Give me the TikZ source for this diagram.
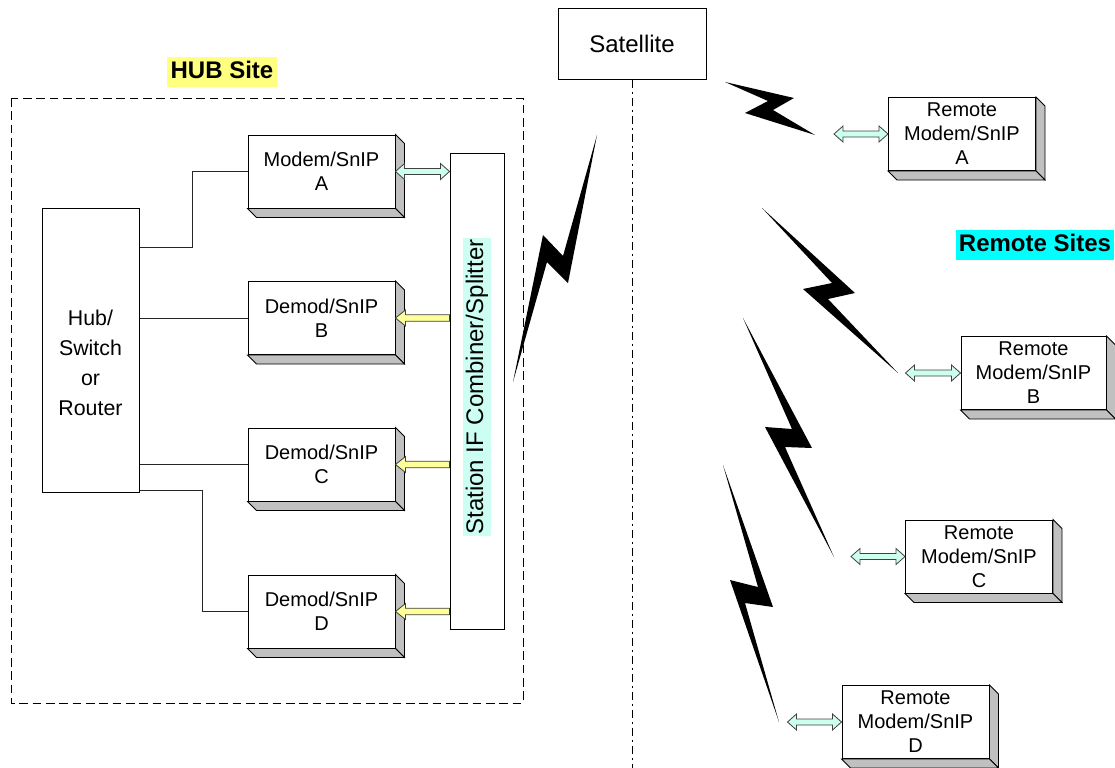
\documentclass[tikz,border=0pt]{standalone}
\usepackage{fontspec}
\setmainfont{Liberation Sans}
\usetikzlibrary{calc}
\definecolor{aqua}{HTML}{CCFFEE}
\definecolor{lyel}{HTML}{FFFF99}
\definecolor{hubyel}{HTML}{FFFF80}
\definecolor{sidegray}{HTML}{C0C0C0}
\definecolor{stbg}{HTML}{CCFFF2}
\definecolor{remcyan}{HTML}{00FFFF}
\tikzset{
 box/.style={draw=black, fill=white, line width=0.75pt, inner sep=0pt, align=center,
   font=\fontsize{15}{18}\selectfont, minimum width=110.25pt, minimum height=54.75pt},
 side/.style={draw=black, fill=sidegray, line width=0.6pt},
 wire/.style={draw=black!85, line width=0.75pt},
 arr/.style={draw=black!75, line width=0.6pt},
 bolt/.style={fill=black},
 title/.style={font=\fontsize{18}{21}\selectfont\bfseries, inner xsep=2.5pt, inner ysep=3pt,
   text height=13pt, text depth=3.5pt},
 hubdash/.style={draw=black, line width=0.75pt, dash pattern=on 6.5pt off 3.5pt},
 satline/.style={draw=black, line width=0.75pt, dash pattern=on 6pt off 3pt on 1.5pt off 3pt},
}
\newcommand\bevdepth[1]{%
 \filldraw[side] (#1.north east) -- ++(9,9) -- ($(#1.south east)+(9,9)$) -- (#1.south east) -- cycle;
 \filldraw[side] (#1.south west) -- ++(9,9) -- ($(#1.south east)+(9,9)$) -- (#1.south east) -- cycle;}
\newcommand\dblarr[3]{%
 \filldraw[arr, fill=#3] let \p1=#1, \p2=#2 in
 (\x1,\y1) -- (\x1+6.75pt,\y1+6pt) -- (\x1+6.75pt,\y1+2.25pt) -- (\x2-6.75pt,\y2+2.25pt)
 -- (\x2-6.75pt,\y2+6pt) -- (\x2,\y2) -- (\x2-6.75pt,\y2-6pt) -- (\x2-6.75pt,\y2-2.25pt)
 -- (\x1+6.75pt,\y1-2.25pt) -- (\x1+6.75pt,\y1-6pt) -- cycle;}
\newcommand\sglarr[3]{%
 \filldraw[arr, fill=#3] let \p1=#1, \p2=#2 in
 (\x2,\y2) -- (\x2+7.5pt,\y2+6pt) -- (\x2+7.5pt,\y2+2.5pt) -- (\x1,\y1+2.5pt)
 -- (\x1,\y1-2.5pt) -- (\x2+7.5pt,\y2-2.5pt) -- (\x2+7.5pt,\y2-6pt) -- cycle;}
\begin{document}
\begin{tikzpicture}[x=0.75pt,y=-0.75pt]
\useasboundingbox (0,0) rectangle (1115,768);

% HUB site frame and title
\draw[hubdash] (11,98) rectangle (523,703);
\node[title, fill=hubyel] (hubtitle) at (222,72) {HUB Site};
\node[title, fill=remcyan] (remtitle) at (1035,245) {Remote Sites};

% Satellite
\node[draw, line width=0.75pt, fill=white, minimum width=111pt, minimum height=53.25pt,
  font=\fontsize{18}{21}\selectfont] (sat) at (632,43.5) {Satellite};
\coordinate (satend) at (632,768);
\draw[satline] (sat.south) -- (satend);

% Hub / switch
\node[draw, line width=0.75pt, fill=white, minimum width=72.75pt, minimum height=213pt] (hub) at (90.5,350) {};
\node[font=\fontsize{16}{22.5}\selectfont, align=center] (hubtext) at ($(hub.center)+(0,13)$) {Hub/\\Switch\\or\\Router};

% Combiner
\node[draw, line width=0.75pt, fill=white, minimum width=40.5pt, minimum height=357pt] (comb) at (477,391) {};
\node[rotate=90, fill=stbg, inner xsep=1pt, inner ysep=2pt, font=\fontsize{18}{21}\selectfont] (combtext) at ($(comb.center)+(0,-4)$) {Station IF Combiner/Splitter};

% Hub modems
\node[box] (ma) at (321.5,171.5) {Modem/SnIP\\A};
\node[box] (db) at (321.5,318) {Demod/SnIP\\B};
\node[box] (dc) at (321.5,464.5) {Demod/SnIP\\C};
\node[box] (dd) at (321.5,611.5) {Demod/SnIP\\D};
\bevdepth{ma}\bevdepth{db}\bevdepth{dc}\bevdepth{dd}

% Remote modems
\node[box] (ra) at (962,134) {Remote\\Modem/SnIP\\A};
\node[box, minimum width=108.75pt] (rb) at (1033.5,373) {Remote\\Modem/SnIP\\B};
\node[box] (rc) at (979,556.5) {Remote\\Modem/SnIP\\C};
\node[box] (rd) at (915.5,722) {Remote\\Modem/SnIP\\D};
\bevdepth{ra}\bevdepth{rb}\bevdepth{rc}\bevdepth{rd}

% Wires hub -> modems
\draw[wire] ($(hub.north east)+(0,40)$) -| ($(ma.west)+(-55,0)$) -- (ma.west);
\draw[wire] (hub.east |- db.west) -- (db.west);
\draw[wire] (hub.east |- dc.west) -- (dc.west);
\draw[wire] ($(hub.south east)+(0,-2)$) -| ($(dd.west)+(-45,0)$) -- (dd.west);

% Arrows combiner <-> modems
\dblarr{(ma.east)}{(comb.west |- ma.east)}{aqua}
\sglarr{(comb.west |- db.east)}{(db.east)}{lyel}
\sglarr{(comb.west |- dc.east)}{(dc.east)}{lyel}
\sglarr{(comb.west |- dd.east)}{(dd.east)}{lyel}

% Remote arrows
\dblarr{($(ra.west)+(-54,0)$)}{(ra.west)}{aqua}
\dblarr{($(rb.west)+(-55,0)$)}{(rb.west)}{aqua}
\dblarr{($(rc.west)+(-54,0)$)}{(rc.west)}{aqua}
\dblarr{($(rd.west)+(-54,0)$)}{(rd.west)}{aqua}

% Lightning bolts
\fill[bolt] (597,135) -- (568,283) -- (547,262) -- (513,382) -- (543,235) -- (563,256) -- cycle;
\fill[bolt] (725,82) -- (794,98) -- (773,110) -- (815,135) -- (745,113) -- (768,101) -- cycle;
\fill[bolt] (762,208) -- (855,293) -- (828,299) -- (898,373) -- (803,289) -- (832,283) -- cycle;
\fill[bolt] (743,318) -- (812,448) -- (785,447) -- (834,557) -- (765,427) -- (792,429) -- cycle;
\fill[bolt] (723,465) -- (773,607) -- (745,603) -- (779,722) -- (730,580) -- (758,587) -- cycle;
\end{tikzpicture}
\end{document}
